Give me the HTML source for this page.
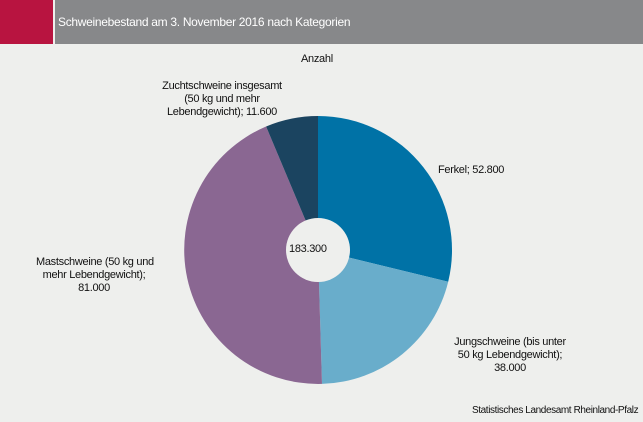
<!DOCTYPE html>
<html><head><meta charset="utf-8"><style>
body{margin:0;width:643px;height:422px;background:#eeefed;font-family:"Liberation Sans",sans-serif;overflow:hidden;position:relative}
.t{position:absolute;font-size:11px;color:#111;line-height:13px;letter-spacing:-0.3px;white-space:nowrap}
</style></head><body>
<div style="position:absolute;left:0;top:0;width:53px;height:44px;background:#b81440"></div>
<div style="position:absolute;left:55px;top:0;width:588px;height:44px;background:#87888a"></div>
<div class="t" style="left:58px;top:16px;color:#fff;font-size:12px">Schweinebestand am 3. November 2016 nach Kategorien</div>
<div class="t" style="left:301px;top:53px">Anzahl</div>
<svg style="position:absolute;left:0;top:0" width="643" height="422">
<path d="M318,250 L318,116 A134,134 0 0 1 448.2,281.7 Z" fill="#0072a6"/>
<path d="M318,250 L448.2,281.7 A134,134 0 0 1 322,383.9 Z" fill="#69adcb"/>
<path d="M318,250 L322,383.9 A134,134 0 0 1 266.1,126.5 Z" fill="#8a6792"/>
<path d="M318,250 L266.1,126.5 A134,134 0 0 1 318,116 Z" fill="#1b4460"/>
<circle cx="318" cy="250" r="32" fill="#eeefed"/>
</svg>
<div class="t" style="left:289px;top:243px">183.300</div>
<div class="t" style="left:438px;top:164px">Ferkel; 52.800</div>
<div class="t" style="left:444px;top:336px;text-align:center;width:132px">Jungschweine (bis unter<br>50 kg Lebendgewicht);<br>38.000</div>
<div class="t" style="left:36px;top:256px;text-align:center;width:116px">Mastschweine (50 kg und<br>mehr Lebendgewicht);<br>81.000</div>
<div class="t" style="left:160px;top:80px;text-align:center;width:124px">Zuchtschweine insgesamt<br>(50 kg und mehr<br>Lebendgewicht); 11.600</div>
<div class="t" style="left:472px;top:404px;font-size:10px;letter-spacing:-0.4px">Statistisches Landesamt Rheinland-Pfalz</div>
</body></html>
